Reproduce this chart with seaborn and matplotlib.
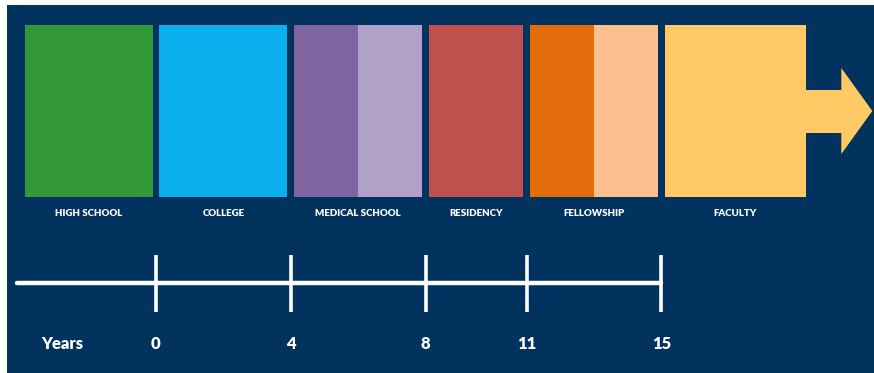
import matplotlib
matplotlib.use('Agg')
import matplotlib.pyplot as plt
import matplotlib.patches as mpatches
import seaborn as sns
import pandas as pd

# career stages (years relative to start of college)
stages = ["HIGH SCHOOL", "COLLEGE", "MEDICAL SCHOOL", "RESIDENCY", "FELLOWSHIP", "FACULTY"]
starts = [-4, 0, 4, 8, 11, 15]
ends = [0, 4, 8, 11, 15, 19.4]
splits = [None, None, 6, None, 13, None]   # two-tone blocks change shade here
colors = ["#339838", "#0BAFEE", "#8064A2", "#C0504D", "#E46C0A", "#FFC966"]
light_colors = [None, None, "#B1A0C7", None, "#FAC090", None]

tick_years = [0, 4, 8, 11, 15]
tick_labels = ["0", "4", "8", "11", "15"]

navy = "#02335F"

sns.set_theme(style="white")
plt.rcParams['font.family'] = ['Lato', 'DejaVu Sans']

fig = plt.figure(figsize=(8.74, 3.73), dpi=100)
ax = fig.add_axes([0, 0, 1, 1])
ax.set_facecolor("white")
ax.set_xlim(-4.63, 21.31)
ax.set_ylim(373, 0)
ax.axis("off")

# navy panel
ax.add_patch(mpatches.Rectangle((7 / 874, 0), 1, 368 / 373, transform=ax.transAxes,
                                facecolor=navy, edgecolor="none", zorder=0))

gap = 0.1
top, bottom = 25, 197
for name, s, e, sp, c, lc in zip(stages, starts, ends, splits, colors, light_colors):
    left, right = s + gap, e - gap
    if sp is None:
        ax.bar((left + right) / 2, bottom - top, width=right - left, bottom=top,
               color=c, linewidth=0, zorder=2)
    else:
        ax.bar((left + sp) / 2, bottom - top, width=sp - left, bottom=top,
               color=c, linewidth=0, zorder=2)
        ax.bar((sp + right) / 2, bottom - top, width=right - sp, bottom=top,
               color=lc, linewidth=0, zorder=2)
    ax.text((s + e) / 2, 213, name, color="white", fontsize=7, fontweight="heavy",
            ha="center", va="center", zorder=3)

# arrow off the faculty block
fac_end = ends[-1] - gap
shaft_end = fac_end + 1.04
tip = shaft_end + 0.92
ax.fill([fac_end - 0.2, shaft_end, shaft_end, tip, shaft_end, shaft_end, fac_end - 0.2],
        [90, 90, 68, 111, 154, 133, 133], color=colors[-1], linewidth=0, zorder=2)

# timeline
line = pd.DataFrame({"year": [starts[0] - 0.13, tick_years[-1]], "y": [283, 283]})
sns.lineplot(data=line, x="year", y="y", color="white", linewidth=3.2, ax=ax, zorder=3)
ax.vlines(tick_years, 255, 312, color="white", linewidth=2.6, zorder=3)
for yr, lab in zip(tick_years, tick_labels):
    ax.text(yr, 344, lab, color="white", fontsize=12, fontweight="heavy",
            ha="center", va="center")
ax.text(-2.79, 344, "Years", color="white", fontsize=12, fontweight="heavy",
        ha="center", va="center")

fig.savefig("out.png", dpi=100, facecolor="white")
